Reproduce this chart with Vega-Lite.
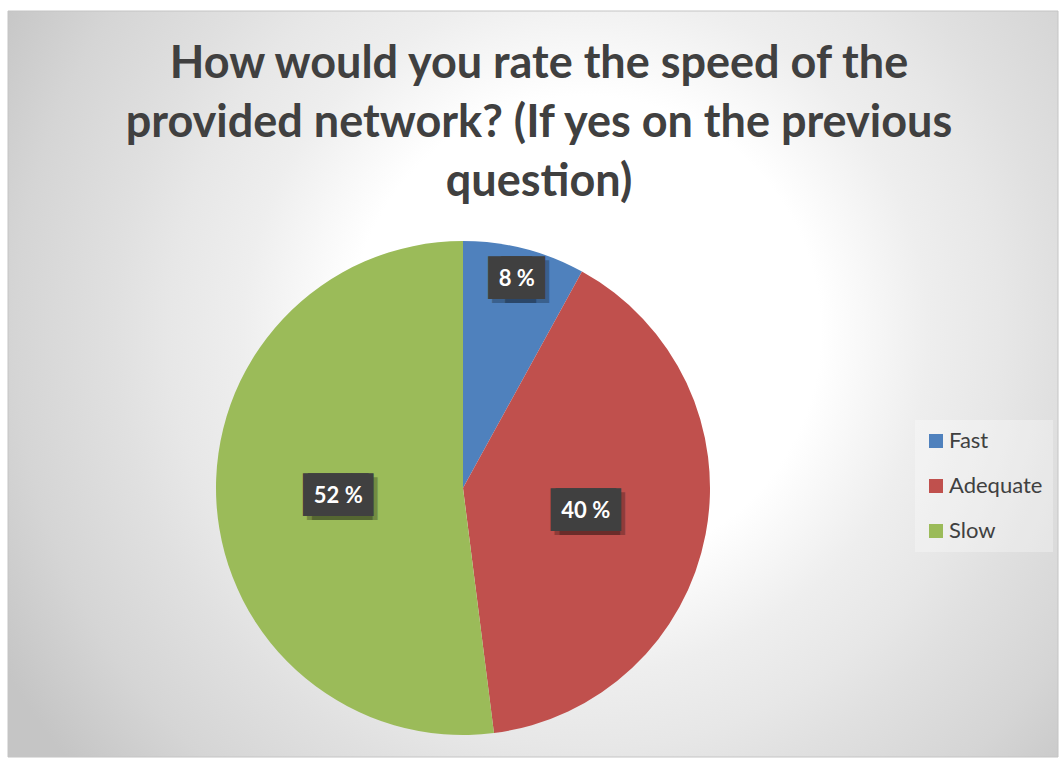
{
  "$schema": "https://vega.github.io/schema/vega-lite/v6.json",
  "width": 1059,
  "height": 758,
  "autosize": {"type": "fit", "contains": "padding"},
  "padding": {"left": 7, "top": 10, "right": 0, "bottom": 0},
  "background": "#ffffff",
  "title": {
    "text": ["How would you rate the speed of the", "provided network? (If yes on the previous", "question)"],
    "font": "Lato",
    "fontSize": 45,
    "fontWeight": "bold",
    "color": "#404040",
    "lineHeight": 59,
    "anchor": "middle",
    "baseline": "bottom",
    "offset": -239,
    "dx": 6
  },
  "config": {"view": {"stroke": null}},
  "data": {
    "values": [
      {"category": "Fast", "value": 8, "label": "8 %", "rank": 1},
      {"category": "Adequate", "value": 40, "label": "40 %", "rank": 2},
      {"category": "Slow", "value": 52, "label": "52 %", "rank": 3}
    ]
  },
  "layer": [
    {
      "data": {"values": [{}]},
      "mark": {
        "type": "rect",
        "stroke": "#c4c4c4",
        "strokeWidth": 1,
        "fill": {
          "gradient": "radial",
          "x1": 0.55, "y1": 0.45, "r1": 0,
          "x2": 0.55, "y2": 0.45, "r2": 0.64,
          "stops": [
            {"offset": 0, "color": "#ffffff"},
            {"offset": 0.35, "color": "#ffffff"},
            {"offset": 0.51, "color": "#eeeeee"},
            {"offset": 0.62, "color": "#e7e7e7"},
            {"offset": 0.7, "color": "#e0e0e0"},
            {"offset": 0.85, "color": "#d5d5d5"},
            {"offset": 1, "color": "#c5c5c5"}
          ]
        }
      },
      "encoding": {
        "x": {"value": 0},
        "x2": {"value": "width"},
        "y": {"value": 0},
        "y2": {"value": "height"}
      }
    },
    {
      "mark": {"type": "arc", "outerRadius": 247, "x": 455, "y": 477},
      "encoding": {
        "theta": {"field": "value", "type": "quantitative", "stack": true},
        "order": {"field": "rank", "type": "quantitative"},
        "color": {
          "field": "category",
          "type": "nominal",
          "scale": {"domain": ["Fast", "Adequate", "Slow"], "range": ["#4f81bd", "#c0504d", "#9bbb59"]},
          "legend": {
            "orient": "none",
            "legendX": 907,
            "legendY": 409,
            "title": null,
            "labelFont": "Lato",
            "labelFontSize": 22,
            "labelColor": "#404040",
            "symbolType": "square",
            "symbolSize": 196,
            "symbolStrokeWidth": 0,
            "rowPadding": 23,
            "padding": 10,
            "labelOffset": 2,
            "fillColor": "rgba(255,255,255,0.3)"
          }
        }
      }
    },
    {
      "mark": {"type": "text", "font": "DejaVu Sans Mono", "fontSize": 36, "color": "#000000", "opacity": 0.25, "radius": 216, "x": 455, "y": 477, "dx": -2.5, "dy": 4, "baseline": "middle", "align": "center"},
      "encoding": {
        "theta": {"field": "value", "type": "quantitative", "stack": true},
        "order": {"field": "rank", "type": "quantitative"},
        "text": {"condition": {"test": "datum.category === 'Fast'", "value": "██"}, "value": ""}
      }
    },
    {
      "mark": {"type": "text", "font": "DejaVu Sans Mono", "fontSize": 36, "color": "#000000", "opacity": 0.25, "radius": 216, "x": 455, "y": 477, "dx": 10.5, "dy": 4, "baseline": "middle", "align": "center"},
      "encoding": {
        "theta": {"field": "value", "type": "quantitative", "stack": true},
        "order": {"field": "rank", "type": "quantitative"},
        "text": {"condition": {"test": "datum.category === 'Fast'", "value": "██"}, "value": ""}
      }
    },
    {
      "mark": {"type": "text", "font": "DejaVu Sans Mono", "fontSize": 36, "color": "#404040", "radius": 216, "x": 455, "y": 477, "dx": -6.5, "baseline": "middle", "align": "center"},
      "encoding": {
        "theta": {"field": "value", "type": "quantitative", "stack": true},
        "order": {"field": "rank", "type": "quantitative"},
        "text": {"condition": {"test": "datum.category === 'Fast'", "value": "██"}, "value": ""}
      }
    },
    {
      "mark": {"type": "text", "font": "DejaVu Sans Mono", "fontSize": 36, "color": "#404040", "radius": 216, "x": 455, "y": 477, "dx": 6.5, "baseline": "middle", "align": "center"},
      "encoding": {
        "theta": {"field": "value", "type": "quantitative", "stack": true},
        "order": {"field": "rank", "type": "quantitative"},
        "text": {"condition": {"test": "datum.category === 'Fast'", "value": "██"}, "value": ""}
      }
    },
    {
      "mark": {"type": "text", "font": "DejaVu Sans Mono", "fontSize": 36, "color": "#000000", "opacity": 0.25, "radius": 125, "x": 455, "y": 477, "dx": 1.5, "dy": 4, "baseline": "middle", "align": "center"},
      "encoding": {
        "theta": {"field": "value", "type": "quantitative", "stack": true},
        "order": {"field": "rank", "type": "quantitative"},
        "text": {"condition": {"test": "datum.category !== 'Fast'", "value": "███"}, "value": ""}
      }
    },
    {
      "mark": {"type": "text", "font": "DejaVu Sans Mono", "fontSize": 36, "color": "#000000", "opacity": 0.25, "radius": 125, "x": 455, "y": 477, "dx": 6.5, "dy": 4, "baseline": "middle", "align": "center"},
      "encoding": {
        "theta": {"field": "value", "type": "quantitative", "stack": true},
        "order": {"field": "rank", "type": "quantitative"},
        "text": {"condition": {"test": "datum.category !== 'Fast'", "value": "███"}, "value": ""}
      }
    },
    {
      "mark": {"type": "text", "font": "DejaVu Sans Mono", "fontSize": 36, "color": "#404040", "radius": 125, "x": 455, "y": 477, "dx": -2.5, "baseline": "middle", "align": "center"},
      "encoding": {
        "theta": {"field": "value", "type": "quantitative", "stack": true},
        "order": {"field": "rank", "type": "quantitative"},
        "text": {"condition": {"test": "datum.category !== 'Fast'", "value": "███"}, "value": ""}
      }
    },
    {
      "mark": {"type": "text", "font": "DejaVu Sans Mono", "fontSize": 36, "color": "#404040", "radius": 125, "x": 455, "y": 477, "dx": 2.5, "baseline": "middle", "align": "center"},
      "encoding": {
        "theta": {"field": "value", "type": "quantitative", "stack": true},
        "order": {"field": "rank", "type": "quantitative"},
        "text": {"condition": {"test": "datum.category !== 'Fast'", "value": "███"}, "value": ""}
      }
    },
    {
      "mark": {"type": "text", "font": "Lato", "fontWeight": "bold", "fontSize": 22, "color": "#ffffff", "radius": 216, "x": 455, "y": 477, "baseline": "middle", "align": "center"},
      "encoding": {
        "theta": {"field": "value", "type": "quantitative", "stack": true},
        "order": {"field": "rank", "type": "quantitative"},
        "text": {"condition": {"test": "datum.category === 'Fast'", "field": "label"}, "value": ""}
      }
    },
    {
      "mark": {"type": "text", "font": "Lato", "fontWeight": "bold", "fontSize": 22, "color": "#ffffff", "radius": 125, "x": 455, "y": 477, "baseline": "middle", "align": "center"},
      "encoding": {
        "theta": {"field": "value", "type": "quantitative", "stack": true},
        "order": {"field": "rank", "type": "quantitative"},
        "text": {"condition": {"test": "datum.category !== 'Fast'", "field": "label"}, "value": ""}
      }
    }
  ]
}
